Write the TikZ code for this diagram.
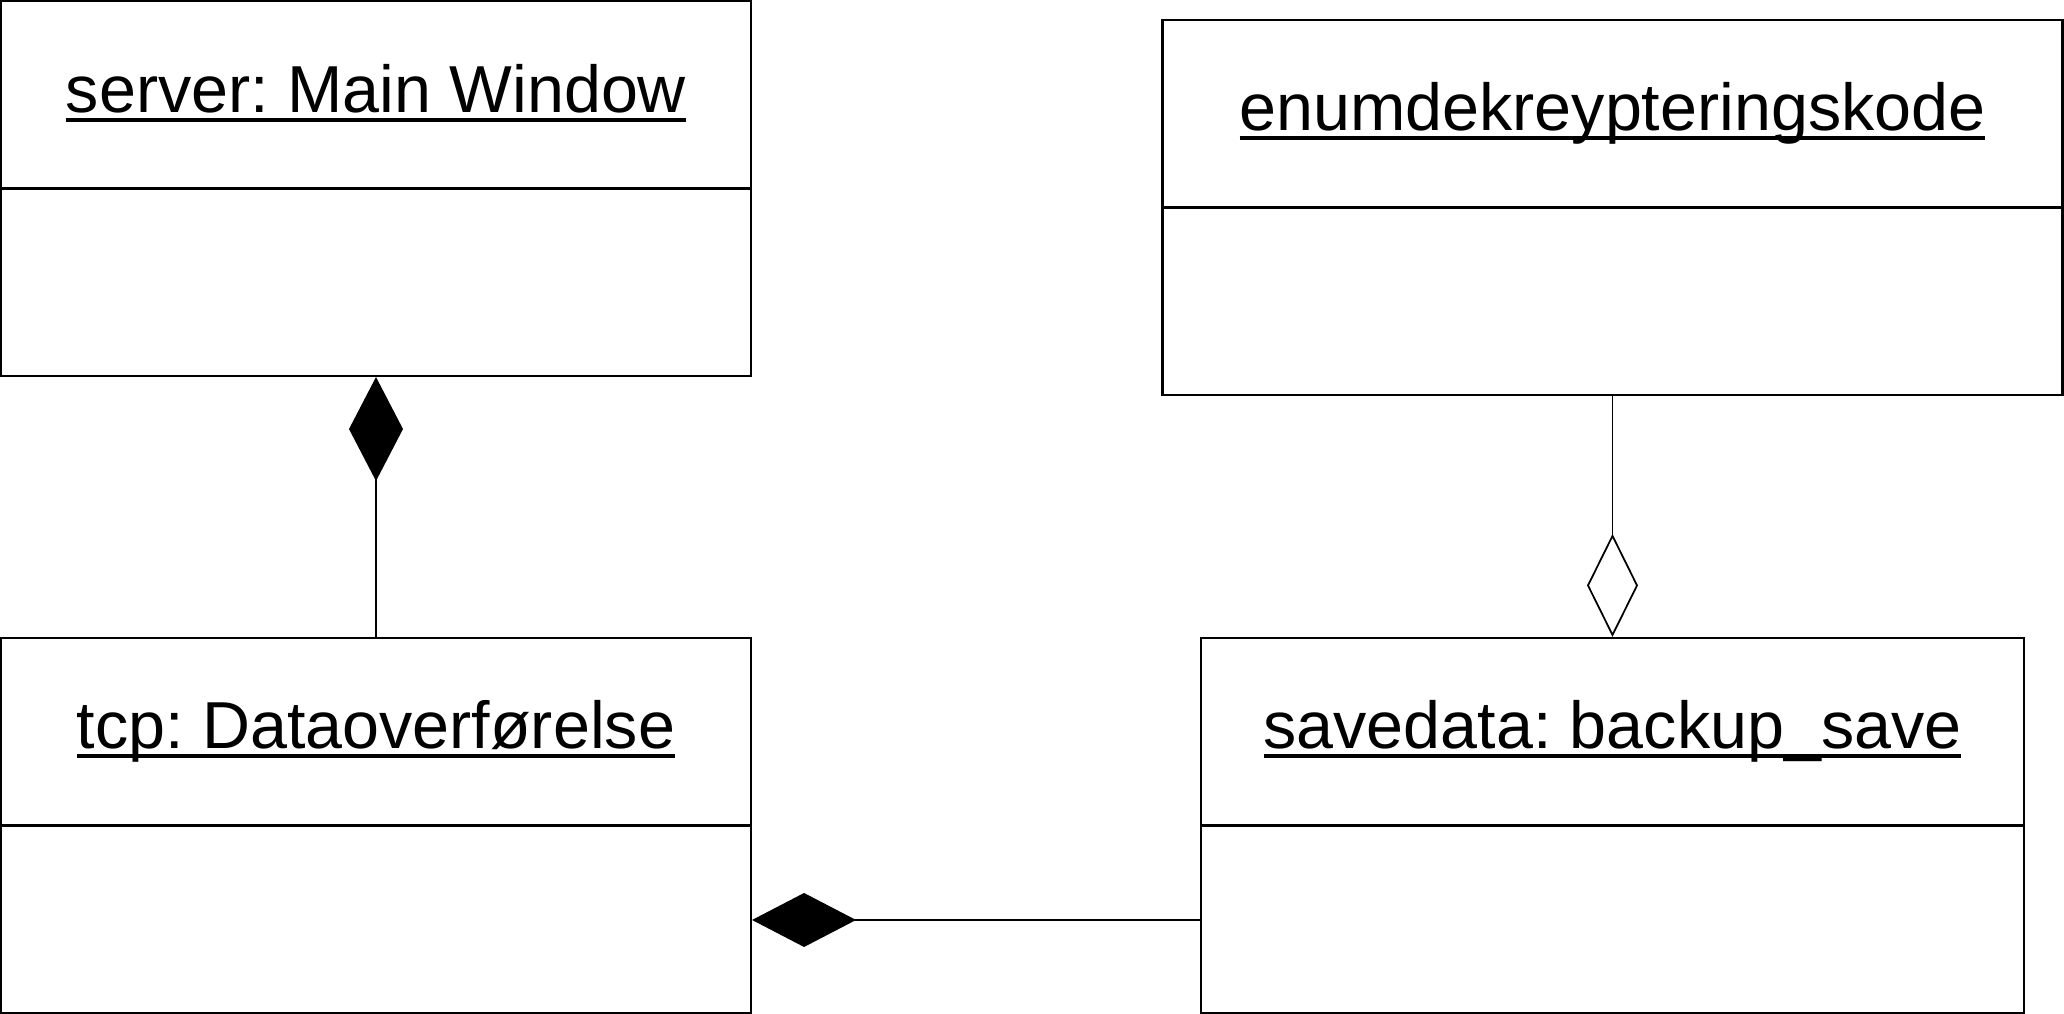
\documentclass[tikz,border=0pt]{standalone}
\usepackage{fontspec}
\setmainfont{Liberation Sans}
\usetikzlibrary{arrows.meta,positioning}
\frenchspacing
\newcommand{\objname}[1]{\setbox0\hbox{#1}\rlap{\rule[-0.14em]{\wd0}{0.065em}}\box0}
\tikzset{
  obj/.style={rectangle, draw, line width=0.6pt, minimum height=37.5mm, inner sep=0pt},
  ttl/.style={anchor=base, inner sep=0pt, font=\fontsize{18.9}{22}\selectfont},
  div/.style={line width=0.6pt},
  cmp/.style={-{Diamond[length=10.4mm,width=5.4mm]}, line width=0.5pt},
  agg/.style={-{Diamond[open,length=10.3mm,width=5.1mm]}, line width=0.5pt}
}
\begin{document}
\begin{tikzpicture}
\useasboundingbox (0,0) rectangle (20.64,10.14);
\node[obj, minimum width=75mm] (server)   at (3.76,8.255)   {};
\node[obj, minimum width=90mm] (enumkode) at (16.125,8.065) {};
\node[obj, minimum width=75mm] (tcp)      at (3.76,1.885)   {};
\node[obj, minimum width=82.3mm] (savedata) at (16.125,1.885) {};
\draw[div] (server.west) -- (server.east);
\draw[div] (enumkode.west) -- (enumkode.east);
\draw[div] (tcp.west) -- (tcp.east);
\draw[div] (savedata.west) -- (savedata.east);
\node[ttl] (server-t)   at ([yshift=-11.3mm]server.north)   {\objname{server: Main Window}};
\node[ttl] (enumkode-t) at ([yshift=-11.2mm]enumkode.north) {\objname{enumdekreypteringskode}};
\node[ttl] (tcp-t)      at ([yshift=-11.2mm]tcp.north)      {\objname{tcp: Dataoverførelse}};
\node[ttl] (savedata-t) at ([yshift=-11.2mm]savedata.north) {\objname{savedata: backup\_save}};
\draw[cmp] (tcp) -- (server);
\draw[agg] (enumkode) -- (savedata);
\draw[cmp] ([yshift=-9.45mm]savedata.west) -- ([yshift=-9.45mm]tcp.east);
\end{tikzpicture}
\end{document}
